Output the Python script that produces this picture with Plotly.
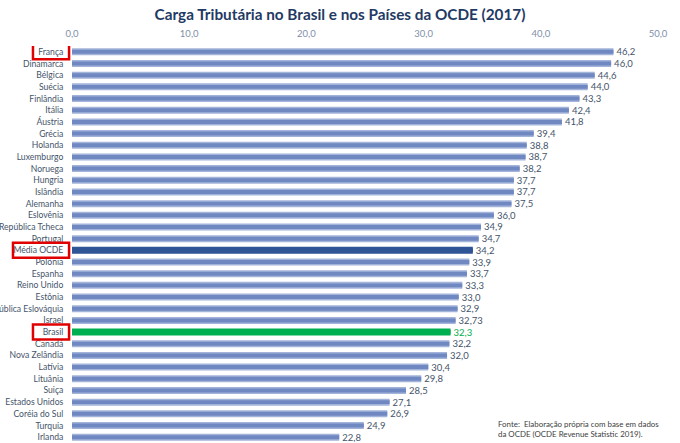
import plotly.graph_objects as go

paises = ["França", "Dinamarca", "Bélgica", "Suécia", "Finlândia", "Itália", "Áustria",
          "Grécia", "Holanda", "Luxemburgo", "Noruega", "Hungria", "Islândia", "Alemanha",
          "Eslovênia", "República Tcheca", "Portugal", "Média OCDE", "Polônia", "Espanha",
          "Reino Unido", "Estônia", "República Eslováquia", "Israel", "Brasil", "Canadá",
          "Nova Zelândia", "Latívia", "Lituânia", "Suiça", "Estados Unidos", "Coréia do Sul",
          "Turquia", "Irlanda"]
carga = [46.2, 46.0, 44.6, 44.0, 43.3, 42.4, 41.8, 39.4, 38.8, 38.7, 38.2, 37.7, 37.7, 37.5,
         36.0, 34.9, 34.7, 34.2, 33.9, 33.7, 33.3, 33.0, 32.9, 32.73, 32.3, 32.2, 32.0, 30.4,
         29.8, 28.5, 27.1, 26.9, 24.9, 22.8]
rotulos = ["46,2", "46,0", "44,6", "44,0", "43,3", "42,4", "41,8", "39,4", "38,8", "38,7",
           "38,2", "37,7", "37,7", "37,5", "36,0", "34,9", "34,7", "34,2", "33,9", "33,7",
           "33,3", "33,0", "32,9", "32,73", "32,3", "32,2", "32,0", "30,4", "29,8", "28,5",
           "27,1", "26,9", "24,9", "22,8"]
destaques = ["França", "Média OCDE", "Brasil"]

cor_base = "#A3B4DB"
cor_meio = "#7088C1"
cores_ext = [("#2F5597" if p == "Média OCDE" else "#00B050" if p == "Brasil" else cor_base) for p in paises]
cores_int = [("#2F5597" if p == "Média OCDE" else "#00B050" if p == "Brasil" else cor_meio) for p in paises]
cores_txt = [("#00B050" if p == "Brasil" else "#44546A") for p in paises]

fig = go.Figure()
fig.add_trace(go.Bar(
    y=paises, x=carga, orientation="h", width=0.6,
    marker=dict(color=cores_ext, line=dict(width=0)),
    text=rotulos, textposition="outside", cliponaxis=False, constraintext="none",
    textfont=dict(size=9.5, color=cores_txt, family="Lato"),
    hoverinfo="skip",
))
fig.add_trace(go.Bar(
    y=paises, x=carga, orientation="h", width=0.34,
    marker=dict(color=cores_int, line=dict(width=0)),
    hoverinfo="skip",
))

# caixas vermelhas em torno dos destaques
for p in destaques:
    i = paises.index(p)
    x0 = -0.1007 if p == "Média OCDE" else -0.0666
    fig.add_shape(type="rect", xref="paper", yref="y", x0=x0, x1=-0.005,
                  y0=i - 0.64, y1=i + 0.64, line=dict(color="#E00000", width=2.5))

fig.add_annotation(
    text="Fonte:  Elaboração própria com base em dados<br>da OCDE (OCDE Revenue Statistic 2019).",
    xref="paper", yref="paper", x=0.7235, y=0.005, xanchor="left", yanchor="bottom",
    align="left", showarrow=False, font=dict(size=7.9, color="#404040", family="Lato"))

fig.update_layout(
    width=680, height=443,
    margin=dict(l=72, r=22, t=46, b=0),
    paper_bgcolor="white", plot_bgcolor="white",
    barmode="overlay", showlegend=False,
    separators=",.",
    title=dict(text="<b>Carga Tributária no Brasil e nos Países da OCDE (2017)</b>",
               x=0.5, xanchor="center", y=0.966, yanchor="middle",
               font=dict(size=15.3, color="#1F3A64", family="Lato")),
    font=dict(family="Lato"),
    xaxis=dict(side="top", range=[0, 50], dtick=10, tickformat=".1f",
               showgrid=False, zeroline=False, showline=False,
               ticks="outside", ticklen=4, tickcolor="rgba(0,0,0,0)",
               tickfont=dict(size=9.5, color="#7F8FA9")),
    yaxis=dict(range=[33.5, -0.5], tickmode="array", tickvals=paises, ticktext=paises,
               showgrid=False, showline=False, zeroline=False,
               tickfont=dict(size=8.6, color="#44546A"), automargin=False,
               ticks="outside", ticklen=6, tickcolor="rgba(0,0,0,0)"),
)

fig.write_html("out.html", config={"displayModeBar": False},
               post_script="document.body.style.margin='0';")
